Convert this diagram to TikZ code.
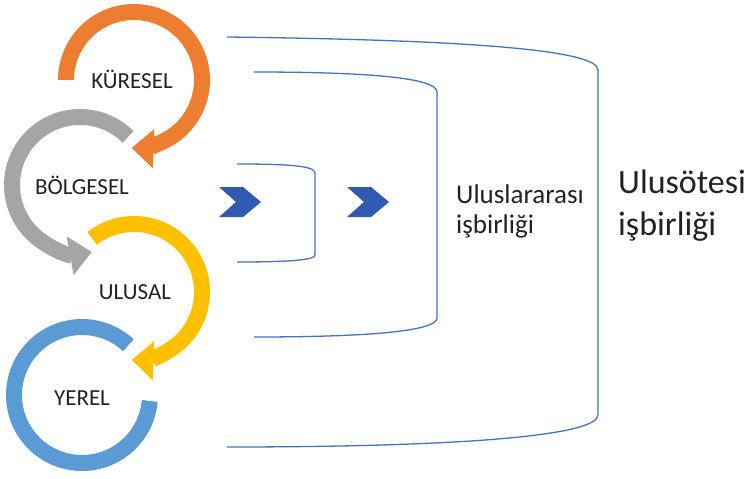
\documentclass[tikz,border=0pt]{standalone}
\usepackage{fontspec}
\setmainfont{Carlito}
\usetikzlibrary{arrows.meta}
\definecolor{kure}{RGB}{237,125,49}
\definecolor{bolge}{RGB}{165,165,165}
\definecolor{ulus}{RGB}{255,192,0}
\definecolor{yer}{RGB}{91,155,213}
\definecolor{cizgi}{RGB}{68,114,196}
\definecolor{okrenk}{RGB}{47,89,178}
\definecolor{yazi}{RGB}{34,34,34}
\tikzset{
	halka/.style={line width=16pt},
	halkaok/.style={halka, -{Triangle[width=38pt,length=22pt]}},
	etiket/.style={font=\fontsize{23}{27}\selectfont, text=yazi},
	kanat/.style={draw=cizgi, line width=1.3pt},
	baslik/.style={text=yazi, anchor=base west, inner sep=0pt},
}
\begin{document}
\begin{tikzpicture}[x=1pt,y=1pt]
		\useasboundingbox (0,0) rectangle (752,-479);
		\coordinate (K) at (134,-80);
		\coordinate (B) at (80,-185);
		\coordinate (U) at (134,-292);
		\coordinate (Y) at (82,-395);
		% halkalar
		\draw[halka, yer] (Y) ++(47:68pt) arc[start angle=47, end angle=355, radius=68pt];
		\draw[halkaok, ulus] (U) ++(128:68pt) arc[start angle=128, end angle=-92, radius=68pt];
		\draw[halkaok, bolge] (B) ++(45:68pt) arc[start angle=45, end angle=280, radius=68pt];
		\draw[halkaok, kure] (K) ++(180:68pt) arc[start angle=180, end angle=-92, radius=68pt];
		\node[etiket] (kuresel) at (132,-79) {KÜRESEL};
		\node[etiket] (bolgesel) at (82,-185) {BÖLGESEL};
		\node[etiket] (ulusal) at (135,-292) {ULUSAL};
		\node[etiket] (yerel) at (82,-398) {YEREL};
		% kanatlar
		\draw[kanat] (237,-164) .. controls (290,-164) and (315,-166) .. (315,-173) -- (315,-255) .. controls (315,-260) and (290,-262) .. (237,-262);
		\draw[kanat] (254,-72) .. controls (370,-72) and (437,-78) .. (437,-92) -- (437,-318) .. controls (437,-331) and (370,-337) .. (254,-337);
		\draw[kanat] (227,-37) .. controls (470,-40) and (598,-50) .. (598,-70) -- (598,-415) .. controls (598,-435) and (470,-447) .. (227,-447);
		\foreach \dx in {219,347}
			\fill[okrenk, xshift=\dx pt] (0,-187) -- (24,-187) -- (42,-202) -- (24,-217) -- (0,-217) -- (17,-202) -- cycle;
		\node[baslik, font=\fontsize{27}{31}\selectfont] (uluslar) at (456,-203) {Uluslararası};
		\node[baslik, font=\fontsize{27}{31}\selectfont] (isbirligi1) at (456,-233) {işbirliği};
		\node[baslik, font=\fontsize{34}{40}\selectfont] (ulusotesi) at (618,-193) {Ulusötesi};
		\node[baslik, font=\fontsize{34}{40}\selectfont] (isbirligi2) at (618,-235) {işbirliği};
	\end{tikzpicture}
\end{document}
